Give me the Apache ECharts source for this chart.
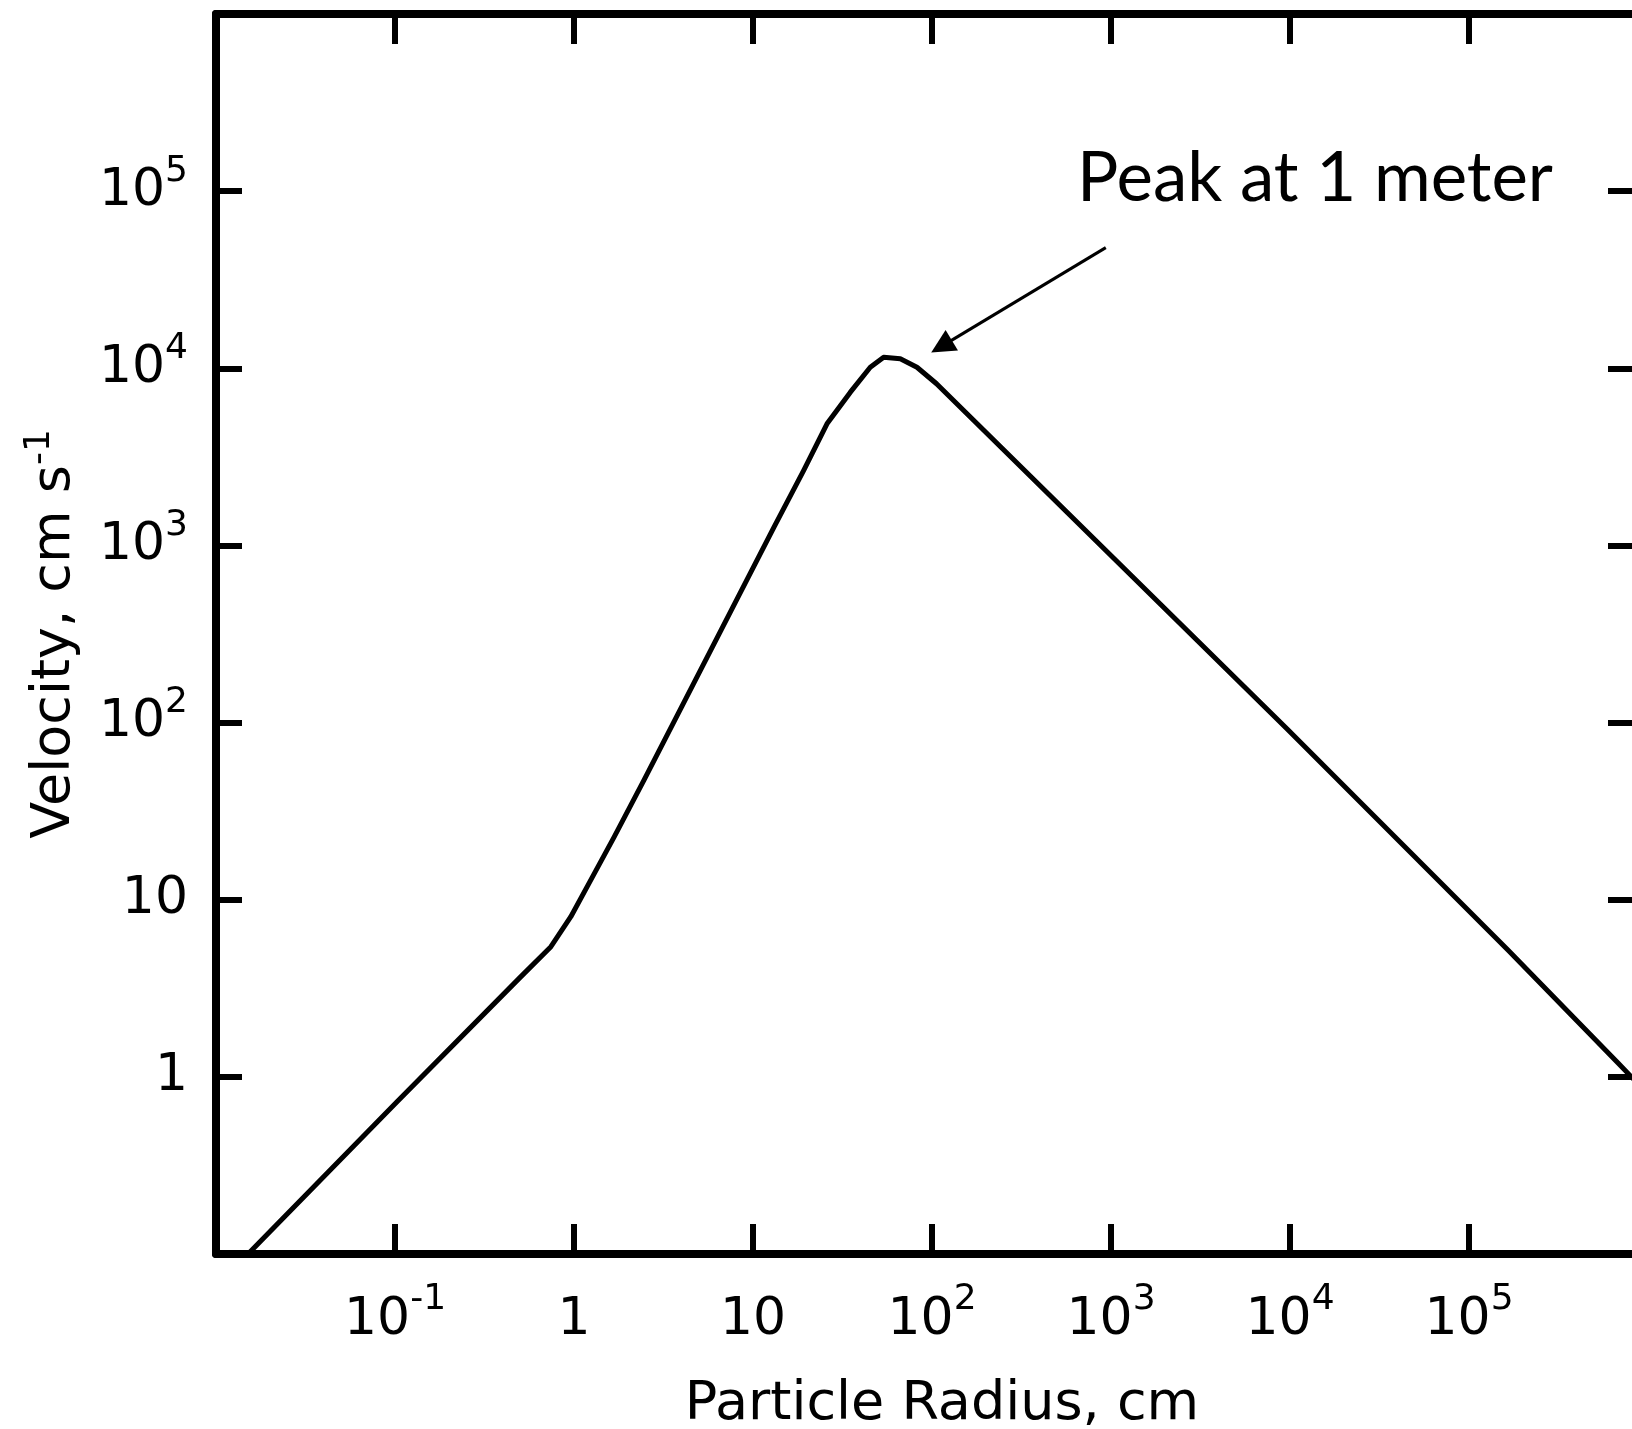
<!DOCTYPE html>
<html>
<head>
<meta charset="utf-8">
<title>Particle velocity vs radius</title>
<script src="https://cdn.jsdelivr.net/npm/echarts@6/dist/echarts.min.js"></script>
<style>
  html, body { margin: 0; padding: 0; background: #fff; }
  #chart { width: 1632px; height: 1429px; }
</style>
</head>
<body>
<div id="chart"></div>
<script>
// particle radius (cm) and velocity (cm/s)
var radius = [0.0151, 0.102, 0.505, 0.743, 0.96, 1.24, 1.68, 2.46, 13.1, 19.2, 25.9, 35, 45.2, 53.7, 66.5, 82.4, 106, 9610, 165000, 678000, 1000000]
var velocity = [0.1, 0.72, 3.68, 5.43, 8.02, 12.9, 22.7, 47.3, 1270, 2650, 4860, 7330, 10140, 11540, 11320, 10140, 8180, 92.3, 5.2, 1.2, 0.8]

// which decades carry a label
var xLabelPowers = [-1, 0, 1, 2, 3, 4, 5]
var yLabelPowers = [0, 1, 2, 3, 4, 5]

// annotation
var peakText = 'Peak at 1 meter'
var peakTextAt = [645, 118000]
var arrowFrom = [935, 48000]
var arrowTo = [113, 13300]

var labelFont = "'DejaVu Sans', sans-serif"
var richLabel = {
  b: { fontSize: 52, lineHeight: 76, fontFamily: labelFont, color: '#000' },
  s: { fontSize: 36, lineHeight: 36, fontFamily: labelFont, color: '#000', verticalAlign: 'top' }
}

function powerLabel (powers) {
  return function (v) {
    var p = Math.round(Math.log10(v))
    if (powers.indexOf(p) < 0) return ''
    if (p === 0) return '{b|1}'
    if (p === 1) return '{b|10}'
    return '{b|10}{s|' + p + '}'
  }
}

var frame = { show: true, lineStyle: { color: '#000', width: 8 } }

var myChart = echarts.init(document.getElementById('chart'))
var option = {
  backgroundColor: '#fff',
  animation: false,
  grid: { left: 216, width: 1432, top: 14, height: 1240, outerBoundsMode: 'none', containLabel: false },
  xAxis: [{
    type: 'log',
    min: 0.01,
    max: 1000000,
    interval: 1,
    position: 'bottom',
    axisLine: frame,
    axisTick: { inside: true, length: 30, lineStyle: { color: '#000', width: 6 } },
    splitLine: { show: false },
    axisLabel: { formatter: powerLabel(xLabelPowers), margin: 28, rich: richLabel },
    name: 'Particle Radius, cm',
    nameLocation: 'middle',
    nameGap: 124,
    nameTextStyle: { fontSize: 54, fontFamily: labelFont, color: '#000', padding: [0, 0, 0, 20] }
  }, {
    type: 'log',
    min: 0.01,
    max: 1000000,
    interval: 1,
    position: 'top',
    axisLine: frame,
    axisTick: { inside: true, length: 30, lineStyle: { color: '#000', width: 6 } },
    splitLine: { show: false },
    axisLabel: { show: false }
  }],
  yAxis: [{
    type: 'log',
    min: 0.1,
    max: 1000000,
    interval: 1,
    position: 'left',
    axisLine: frame,
    axisTick: { inside: true, length: 26, lineStyle: { color: '#000', width: 6 } },
    splitLine: { show: false },
    axisLabel: { formatter: powerLabel(yLabelPowers), margin: 28, rich: richLabel },
    name: '{n|Velocity, cm s}{s|-1}',
    nameLocation: 'middle',
    nameRotate: 90,
    nameGap: 128,
    nameTextStyle: {
      rich: {
        n: { fontSize: 54, lineHeight: 66, fontFamily: labelFont, color: '#000' },
        s: { fontSize: 36, lineHeight: 36, fontFamily: labelFont, color: '#000', verticalAlign: 'top' }
      }
    }
  }, {
    type: 'log',
    min: 0.1,
    max: 1000000,
    interval: 1,
    position: 'right',
    axisLine: frame,
    axisTick: { inside: true, length: 40, lineStyle: { color: '#000', width: 6 } },
    splitLine: { show: false },
    axisLabel: { show: false }
  }],
  series: [{
    type: 'line',
    data: radius.map(function (r, i) { return [r, velocity[i]] }),
    symbol: 'none',
    smooth: false,
    lineStyle: { color: '#000', width: 5, join: 'round' },
    markLine: {
      silent: true,
      symbol: ['none', 'triangle'],
      symbolSize: 24,
      label: { show: false },
      lineStyle: { color: '#000', width: 3, type: 'solid' },
      itemStyle: { color: '#000' },
      data: [[{ coord: arrowFrom }, { coord: arrowTo }]]
    },
    markPoint: {
      silent: true,
      symbol: 'circle',
      symbolSize: 0,
      data: [{
        coord: peakTextAt,
        label: {
          show: true,
          position: 'inside',
          formatter: peakText,
          align: 'left',
          verticalAlign: 'middle',
          fontSize: 69,
          fontFamily: 'Lato, "Open Sans", sans-serif',
          color: '#000'
        }
      }]
    }
  }]
}
myChart.setOption(option)
</script>
</body>
</html>
